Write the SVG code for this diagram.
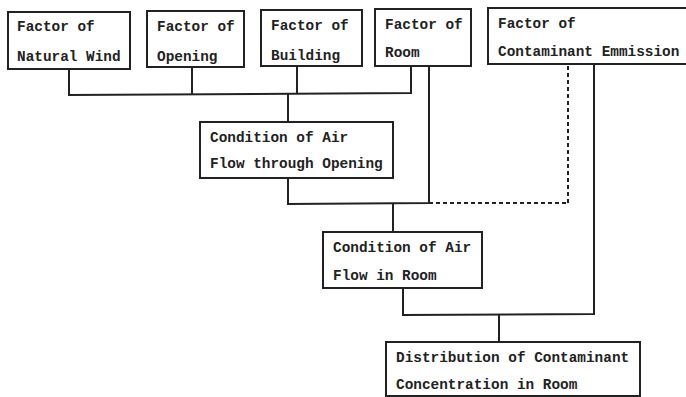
<svg xmlns="http://www.w3.org/2000/svg" width="686" height="397" viewBox="0 0 686 397">
<style>
rect{fill:#fff;stroke:#222;stroke-width:2}
text{font-family:"Liberation Mono","DejaVu Sans Mono",monospace;font-size:14.4px;font-weight:bold;fill:#222}
.c{fill:none;stroke:#222;stroke-width:2}
.d{fill:none;stroke:#222;stroke-width:2;stroke-dasharray:4 3}
</style>
<rect x="0" y="0" width="686" height="397" style="stroke:none"/>
<g id="connectors">
<polyline class="c" points="69,69 69,95 411,93 411,66"/>
<line class="c" x1="192" y1="67" x2="192" y2="94"/>
<line class="c" x1="297" y1="66" x2="297" y2="94"/>
<line class="c" x1="288" y1="94" x2="288" y2="122"/>
<polyline class="c" points="288,178 288,204 429,203 429,66"/>
<line class="d" x1="429" y1="203" x2="568" y2="203"/>
<line class="d" x1="568" y1="203" x2="568" y2="64"/>
<line class="c" x1="393" y1="204" x2="393" y2="232"/>
<polyline class="c" points="403,288 403,315 594,314 594,64"/>
<line class="c" x1="499" y1="315" x2="499" y2="342"/>
</g>
<g id="n1"><rect x="8" y="12" width="122" height="57"/><text x="17" y="31">Factor of</text><text x="17" y="61">Natural Wind</text></g>
<g id="n2"><rect x="147" y="11" width="97" height="56"/><text x="157" y="31">Factor of</text><text x="157" y="61">Opening</text></g>
<g id="n3"><rect x="261" y="10" width="101" height="56"/><text x="271" y="30">Factor of</text><text x="271" y="60">Building</text></g>
<g id="n4"><rect x="375" y="9" width="96" height="57"/><text x="385" y="29">Factor of</text><text x="385" y="57">Room</text></g>
<g id="n5"><rect x="488" y="8" width="202" height="56"/><text x="498" y="28">Factor of</text><text x="498" y="56">Contaminant Emmission</text></g>
<g id="n6"><rect x="200" y="122" width="193" height="56"/><text x="210" y="142">Condition of Air</text><text x="210" y="168">Flow through Opening</text></g>
<g id="n7"><rect x="323" y="232" width="159" height="56"/><text x="333" y="252">Condition of Air</text><text x="333" y="280">Flow in Room</text></g>
<g id="n8"><rect x="386" y="342" width="254" height="54"/><text x="396" y="362">Distribution of Contaminant</text><text x="396" y="389">Concentration in Room</text></g>
</svg>
